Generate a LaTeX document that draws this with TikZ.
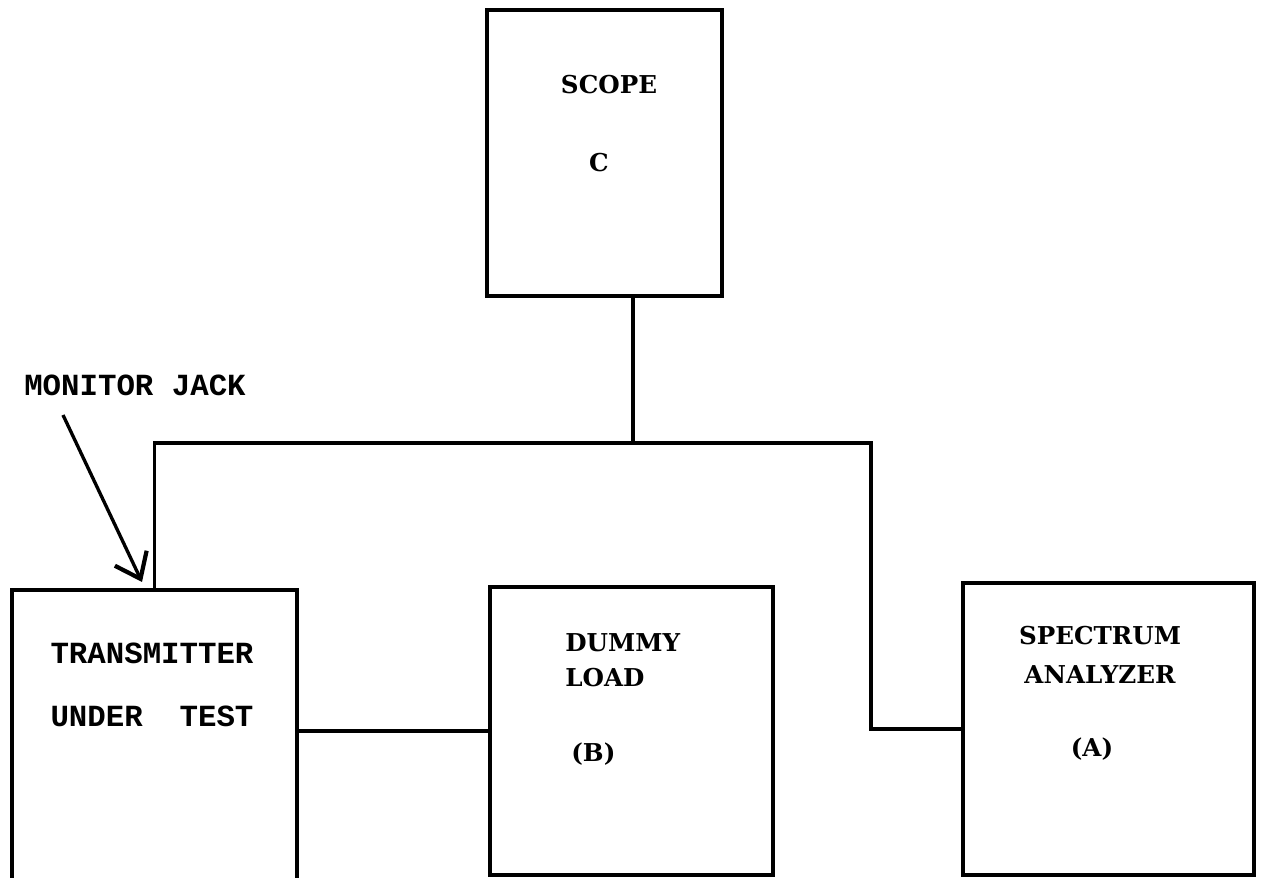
\documentclass[tikz,border=0pt]{standalone}
\usepackage{fontspec}
\setmainfont{DejaVu Serif}
\setmonofont{Liberation Mono}
\usetikzlibrary{arrows.meta}

\begin{document}
\begin{tikzpicture}[x=0.02cm, y=-0.02cm,
		unit/.style={draw, line width=1.9pt, inner sep=0pt},
		typed/.style={font=\ttfamily\bfseries\fontsize{17.5}{20}\selectfont, inner sep=0pt},
		printed/.style={font=\rmfamily\bfseries\fontsize{14}{17}\selectfont, inner sep=0pt},
		wire/.style={line width=1.9pt},
		jackarrow/.style={line width=1.9pt, -{Straight Barb[length=13pt, width=20pt, line width=2.4pt]}}]
			%%%%% START %%%%%
			
			\clip (0, 0) rectangle (1262, 878);
			
			\node[unit, minimum width=4.7cm, minimum height=5.72cm] (scope) at (604.5, 153) {};
			\node[printed] (scopename) at (609, 85) {SCOPE};
			\node[printed] (scopeletter) at (599, 163) {C};
			
			\node[unit, minimum width=5.7cm, minimum height=6.2cm] (tx) at (154.5, 745) {};
			\node[typed] (txname) at (152, 653) {TRANSMITTER};
			\node[typed] (txtest) at (152, 716) {UNDER\ \ TEST};
			
			\node[unit, minimum width=5.66cm, minimum height=5.76cm] (dummy) at (631.5, 731) {};
			\node[printed, anchor=west] (dummyname) at (565, 643) {DUMMY};
			\node[printed, anchor=west] (dummyload) at (565, 678) {LOAD};
			\node[printed, anchor=west] (dummyletter) at (571, 754) {(B)};
			
			\node[unit, minimum width=5.82cm, minimum height=5.84cm] (spec) at (1108.5, 729) {};
			\node[printed] (specname) at (1100, 636) {SPECTRUM};
			\node[printed] (specsub) at (1100, 675) {ANALYZER};
			\node[printed] (specletter) at (1092, 749) {(A)};
			
			\coordinate (tee) at (633, 443);
			\coordinate (bend) at (871, 443);
			\draw[wire] (scope.south -| tee) -- (tee);
			\draw[wire] (tx.north) |- (bend) |- (spec.west);
			\draw[wire] (dummy.west -| tx.east) -- (dummy.west);
			
			\node[typed] (jacklbl) at (135, 385) {MONITOR JACK};
			\coordinate (jacktail) at (63, 415);
			\coordinate (jack) at (142, 582);
			\draw[jackarrow] (jacktail) -- (jack);
			
			%%%%% END %%%%%
		\end{tikzpicture}
\end{document}
